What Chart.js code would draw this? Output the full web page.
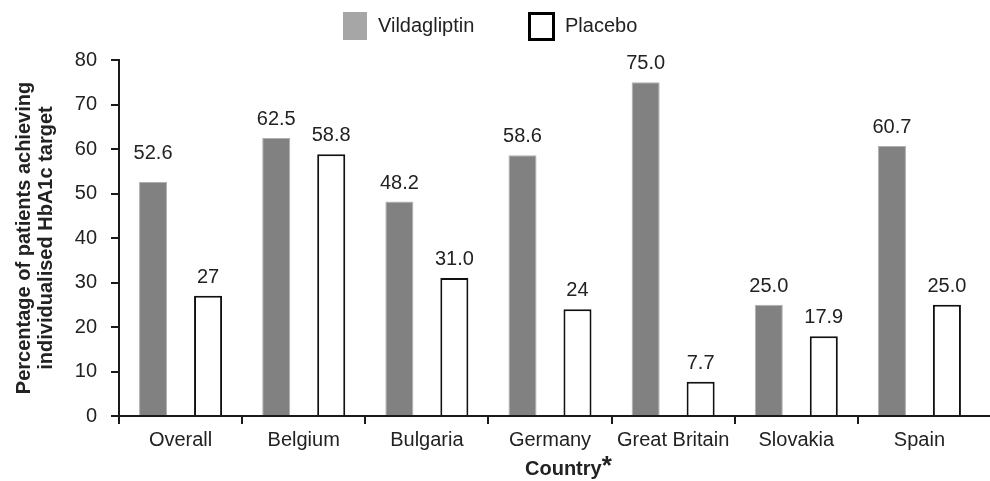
<!DOCTYPE html>
<html>
<head>
<meta charset="utf-8">
<script src="https://cdn.jsdelivr.net/npm/chart.js@4.4.1/dist/chart.umd.min.js"></script>
<style>
  html, body { margin: 0; padding: 0; background: #fff; }
  #wrap { width: 990px; height: 481px; position: relative; }
</style>
</head>
<body>
<div id="wrap"><canvas id="c"></canvas></div>
<script>
// ---- data ----
const categories = ['Overall', 'Belgium', 'Bulgaria', 'Germany', 'Great Britain', 'Slovakia', 'Spain'];
const vildagliptin = [52.6, 62.5, 48.2, 58.6, 75.0, 25.0, 60.7];
const placebo = [27, 58.8, 31.0, 24, 7.7, 17.9, 25.0];
const vildagliptinLabels = ['52.6', '62.5', '48.2', '58.6', '75.0', '25.0', '60.7'];
const placeboLabels = ['27', '58.8', '31.0', '24', '7.7', '17.9', '25.0'];
const seriesNames = ['Vildagliptin', 'Placebo'];
const yTitleLines = ['Percentage of patients achieving', 'individualised HbA1c target'];
const xTitle = 'Country';
const xTitleMark = '*';
const yMin = 0, yMax = 80, yStep = 10;

const FONT = "'Liberation Sans', Arial, Helvetica, sans-serif";
const TEXT = '#222222';
const AXIS = '#1a1a1a';

const valueLabels = [vildagliptinLabels, placeboLabels];

const overlayPlugin = {
  id: 'overlay',
  afterDatasetsDraw(chart) {
    const ctx = chart.ctx;
    ctx.save();
    // data labels
    ctx.font = '20px ' + FONT;
    ctx.fillStyle = TEXT;
    ctx.textAlign = 'center';
    ctx.textBaseline = 'alphabetic';
    chart.data.datasets.forEach((ds, di) => {
      const meta = chart.getDatasetMeta(di);
      meta.data.forEach((bar, i) => {
        // the first label sits a little higher in the original figure
        const lift = (di === 0 && i === 0) ? 23 : 13;
        ctx.fillText(valueLabels[di][i], bar.x, bar.y - lift);
      });
    });
    ctx.restore();
  },
  afterDraw(chart) {
    const ctx = chart.ctx;
    const area = chart.chartArea;
    ctx.save();
    // axis line extension to the right edge
    ctx.strokeStyle = AXIS;
    ctx.lineWidth = 2;
    ctx.beginPath();
    ctx.moveTo(area.right - 1, area.bottom);
    ctx.lineTo(chart.width, area.bottom);
    ctx.stroke();

    // legend
    const cx = (area.left + area.right) / 2;
    const lx1 = cx - 207;
    ctx.fillStyle = '#a6a6a6';
    ctx.fillRect(lx1, 12, 24, 28);
    ctx.font = '20px ' + FONT;
    ctx.fillStyle = TEXT;
    ctx.textAlign = 'left';
    ctx.textBaseline = 'alphabetic';
    ctx.fillText(seriesNames[0], lx1 + 35, 32);
    const lx2 = cx - 22;
    ctx.strokeStyle = '#000';
    ctx.lineWidth = 3;
    ctx.fillStyle = '#fff';
    ctx.fillRect(lx2 + 1.5, 13.5, 24, 26);
    ctx.strokeRect(lx2 + 1.5, 13.5, 24, 26);
    ctx.fillStyle = TEXT;
    ctx.fillText(seriesNames[1], lx2 + 37, 32);

    // x axis title
    ctx.font = 'bold 20px ' + FONT;
    ctx.fillStyle = TEXT;
    const tx = cx - 25;
    const ty = chart.height - 6;
    ctx.fillText(xTitle, tx, ty);
    const w = ctx.measureText(xTitle).width;
    ctx.font = 'bold 26px ' + FONT;
    ctx.fillText(xTitleMark, tx + w, ty - 1);
    ctx.restore();
  }
};

new Chart(document.getElementById('c'), {
  type: 'bar',
  data: {
    labels: categories,
    datasets: [
      {
        label: seriesNames[0],
        data: vildagliptin,
        backgroundColor: '#818181',
        borderColor: '#b0b0b0',
        borderWidth: 1,
        borderSkipped: 'bottom'
      },
      {
        label: seriesNames[1],
        data: placebo,
        backgroundColor: '#ffffff',
        borderColor: '#111111',
        borderWidth: 2,
        borderSkipped: 'bottom'
      }
    ]
  },
  options: {
    responsive: true,
    maintainAspectRatio: false,
    animation: false,
    categoryPercentage: 0.893,
    barPercentage: 0.51,
    layout: { padding: { top: 60, right: 9, left: 0, bottom: 0 } },
    plugins: {
      legend: { display: false },
      tooltip: { enabled: false },
      title: { display: false }
    },
    scales: {
      x: {
        offset: true,
        grid: {
          offset: true,
          drawOnChartArea: false,
          drawTicks: true,
          tickLength: 8,
          lineWidth: 2,
          color: (c) => (c.type === 'tick' ? AXIS : 'rgba(0,0,0,0)')
        },
        border: { display: true, color: AXIS, width: 2 },
        ticks: {
          autoSkip: false,
          maxRotation: 0,
          minRotation: 0,
          padding: 4,
          color: TEXT,
          font: { family: FONT, size: 20 }
        },
        afterFit(scale) { scale.height = 65; }
      },
      y: {
        min: yMin,
        max: yMax,
        grid: {
          drawOnChartArea: false,
          drawTicks: true,
          tickLength: 8,
          lineWidth: 2,
          color: AXIS
        },
        border: { display: true, color: AXIS, width: 2 },
        ticks: {
          stepSize: yStep,
          padding: 14,
          color: TEXT,
          font: { family: FONT, size: 20 }
        },
        title: {
          display: true,
          text: yTitleLines,
          color: TEXT,
          font: { family: FONT, size: 20, weight: 'bold', lineHeight: 1.125 },
          padding: { top: 13, bottom: 0 }
        },
        afterFit(scale) { scale.width = 119; }
      }
    }
  },
  plugins: [overlayPlugin]
});
</script>
</body>
</html>
